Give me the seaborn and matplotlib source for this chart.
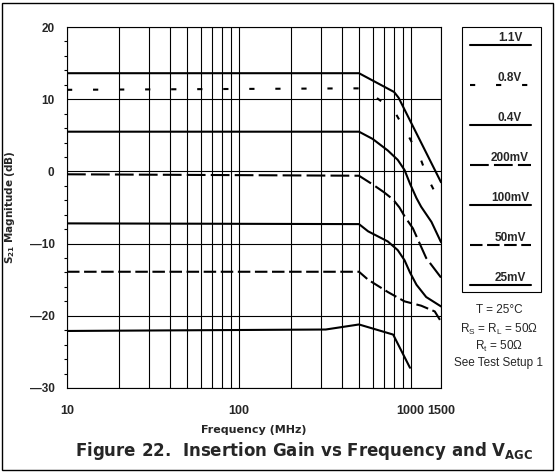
import numpy as np
import pandas as pd
import matplotlib
matplotlib.use("Agg")
import matplotlib.pyplot as plt
from matplotlib.lines import Line2D
from matplotlib.patches import Rectangle
import seaborn as sns

# ---------------- data ----------------
f_11 = [10, 500, 800, 850, 1500]
g_11 = [13.6, 13.6, 11.0, 10.2, -1.5]

f_08 = [10, 450, 500, 600, 800, 950, 1130, 1260, 1500]
g_08 = [11.3, 11.5, 11.5, 10.6, 8.4, 5.3, 2.0, -1.0, -4.5]

f_04 = [10, 500, 600, 735, 840, 920, 990, 1080, 1150, 1320, 1500]
g_04 = [5.5, 5.5, 4.5, 2.9, 1.6, 0.2, -1.7, -3.7, -4.9, -7.0, -9.8]

f_200 = [10, 500, 600, 700, 790, 860, 920, 1030, 1080, 1230, 1500]
g_200 = [-0.4, -0.6, -1.8, -2.9, -3.9, -5.0, -6.2, -7.9, -9.0, -12.0, -14.7]

f_100 = [10, 500, 565, 735, 840, 920, 990, 1080, 1230, 1500]
g_100 = [-7.2, -7.3, -8.3, -9.7, -10.9, -12.3, -14.0, -15.7, -17.4, -18.7]

f_50 = [10, 500, 565, 735, 920, 1150, 1380, 1500]
g_50 = [-13.9, -13.9, -15.0, -16.7, -18.0, -18.6, -19.4, -20.8]

f_25 = [10, 320, 500, 790, 990]
g_25 = [-22.1, -21.9, -21.2, -22.6, -27.2]

series_labels = ["1.1V", "0.8V", "0.4V", "200mV", "100mV", "50mV", "25mV"]
series_f = [f_11, f_08, f_04, f_200, f_100, f_50, f_25]
series_g = [g_11, g_08, g_04, g_200, g_100, g_50, g_25]

x_grid = [10, 20, 30, 40, 50, 60, 70, 80, 90, 100, 200, 300, 400, 500,
          600, 700, 800, 900, 1000, 1500]
x_labelled = {10: "10", 100: "100", 1000: "1000", 1500: "1500"}
y_major = [-30, -20, -10, 0, 10, 20]
y_minor = list(range(-30, 21, 2))

annot_lines = ["T = 25°C", "R$_S$ = R$_L$ = 50Ω", "R$_t$ = 50Ω", "See Test Setup 1"]
caption = "Figure 22.  Insertion Gain vs Frequency and V$_{AGC}$"

# ---------------- style ----------------
sns.set_style("white")
plt.rcParams["font.family"] = ["Liberation Sans", "DejaVu Sans"]
plt.rcParams["mathtext.default"] = "regular"
WIDE = ["DejaVu Sans"]

W, H = 556, 473
fig = plt.figure(figsize=(W / 100, H / 100), dpi=100)

def fx(x):
    return x / W

def fy(y):
    return 1 - y / H

ax_l, ax_r, ax_t, ax_b = 67, 441, 27, 388
ax = fig.add_axes([fx(ax_l), fy(ax_b), fx(ax_r - ax_l), (ax_b - ax_t) / H])

rows = []
for lab, fs, gs in zip(series_labels, series_f, series_g):
    for f, g in zip(fs, gs):
        rows.append({"freq": f, "gain": g, "vagc": lab})
df = pd.DataFrame(rows)

dash_map = {
    "1.1V": "",
    "0.8V": (2.5, 10),
    "0.4V": "",
    "200mV": (9, 2.5),
    "100mV": "",
    "50mV": (6, 2.2),
    "25mV": "",
}
palette = {lab: "black" for lab in series_labels}

sns.lineplot(data=df, x="freq", y="gain", hue="vagc", style="vagc",
             palette=palette, dashes=dash_map, sort=False, estimator=None,
             linewidth=1.5, legend=False, ax=ax)

ax.set_xscale("log")
ax.set_xlim(10, 1500)
ax.set_ylim(-30, 20)

ax.set_xticks(x_grid)
ax.set_xticklabels([x_labelled.get(v, "") for v in x_grid])
ax.xaxis.set_minor_locator(matplotlib.ticker.NullLocator())
ax.set_yticks(y_major)
ax.set_yticklabels([str(v).replace("-", "\u2014") for v in y_major])
ax.set_yticks(y_minor, minor=True)

ax.grid(True, which="major", color="black", linewidth=0.8)
ax.tick_params(axis="x", which="major", direction="out", length=6, width=0.8,
               color="black", labelsize=9, pad=6)
ax.tick_params(axis="y", which="major", direction="out", length=6, width=0.8,
               color="black", labelsize=8.5, pad=3)
ax.tick_params(axis="y", which="minor", direction="out", length=2.5, width=0.8,
               color="black", left=True)
for lbl in ax.get_xticklabels() + ax.get_yticklabels():
    lbl.set_fontweight("bold")

for s in ax.spines.values():
    s.set_color("black")
    s.set_linewidth(0.8)
    s.set_visible(True)

ax.set_xlabel("Frequency (MHz)", fontsize=8, fontweight="bold", labelpad=6,
              family=WIDE)
ax.set_ylabel("S$_{21}$ Magnitude (dB)", fontsize=7.5, fontweight="bold",
              labelpad=9, family=WIDE)

# ---------------- legend box (outside axes) ----------------
fig.patches.append(Rectangle((fx(462), fy(292)), fx(541 - 462), (292 - 27) / H,
                             transform=fig.transFigure, fill=False,
                             edgecolor="black", linewidth=0.8))
leg_text_y0 = 38
leg_step = 40
for i, lab in enumerate(series_labels):
    ty = leg_text_y0 + i * leg_step
    fig.text(fx(510), fy(ty), lab, ha="center", va="center", fontsize=8.5,
             fontweight="bold")
    ls = dash_map[lab]
    line = Line2D([fx(470), fx(531)], [fy(ty + 7), fy(ty + 7)],
                  transform=fig.transFigure, color="black", linewidth=1.5)
    if ls != "":
        line.set_dashes(ls)
    fig.lines.append(line)

for txt, y in zip(annot_lines, [310, 329, 346, 363]):
    fig.text(fx(499), fy(y), txt, ha="center", va="center", fontsize=8.5)

fig.text(fx(304), fy(451), caption, ha="center", va="center", fontsize=12,
         fontweight="bold", family=WIDE)

# figure border
fig.patches.append(Rectangle((fx(2), fy(470)), fx(553 - 2), (470 - 3) / H,
                             transform=fig.transFigure, fill=False,
                             edgecolor="black", linewidth=1.0))

fig.savefig("out.png", dpi=100)
